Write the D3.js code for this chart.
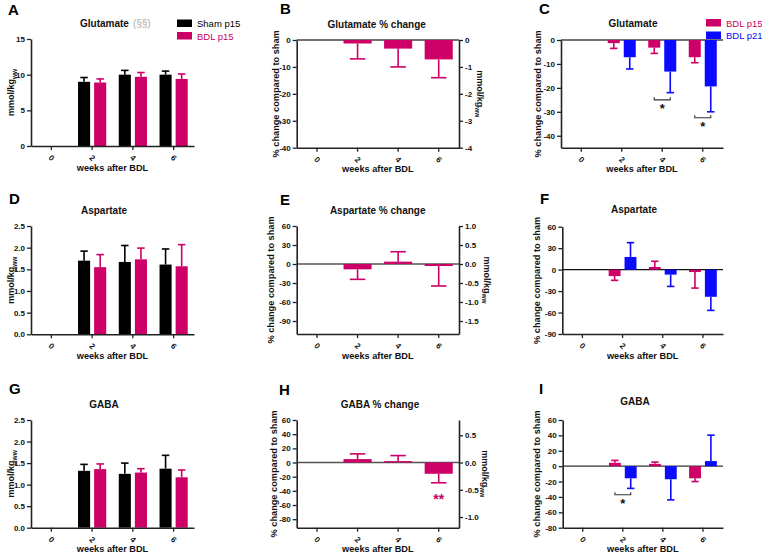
<!DOCTYPE html>
<html><head><meta charset="utf-8">
<script src="https://cdn.jsdelivr.net/npm/d3@7"></script>
<style>body{margin:0;background:#fff}svg{display:block}</style>
</head><body>
<script>
// ---------- DATA ----------
const weeks = ["0", "2", "4", "6"];
// Glutamate (mmol/kg ww)
const gluSham15 = [null, 9.0, 10.0, 10.0];
const gluSham15Err = [null, 0.6, 0.6, 0.5];
const gluBdl15 = [null, 8.9, 9.7, 9.4];
const gluBdl15Err = [null, 0.5, 0.6, 0.7];
// Glutamate % change
const gluPct15 = [null, -1.3, -3.2, -7.2];
const gluPct15ErrB = [null, 5.7, 6.8, 6.8];
const gluPct15ErrC = [null, 2.2, 2.4, 2.3];
const gluPct21 = [null, -7.2, -13.2, -19.4];
const gluPct21Err = [null, 4.9, 8.8, 10.6];
// Aspartate (mmol/kg ww)
const aspSham15 = [null, 1.70, 1.67, 1.61];
const aspSham15Err = [null, 0.22, 0.38, 0.36];
const aspBdl15 = [null, 1.55, 1.73, 1.57];
const aspBdl15Err = [null, 0.29, 0.26, 0.50];
// Aspartate % change
const aspPct15E = [null, -8.4, 3.7, -3.2];
const aspPct15ErrE = [null, 15.8, 15.7, 31.5];
const aspPct15F = [null, -9.0, 3.7, -3.4];
const aspPct15ErrF = [null, 6.0, 8.0, 22.4];
const aspPct21 = [null, 17.7, -7.0, -38.0];
const aspPct21Err = [null, 20.0, 16.5, 19.0];
// GABA (mmol/kg ww)
const gabaSham15 = [null, 1.32, 1.25, 1.37];
const gabaSham15Err = [null, 0.15, 0.25, 0.31];
const gabaBdl15 = [null, 1.36, 1.28, 1.17];
const gabaBdl15Err = [null, 0.12, 0.09, 0.17];
// GABA % change
const gabaPct15H = [null, 4.8, 2.0, -15.9];
const gabaPct15ErrH = [null, 7.4, 7.8, 12.7];
const gabaPct15I = [null, 4.4, 3.0, -15.8];
const gabaPct15ErrI = [null, 3.1, 2.3, 4.2];
const gabaPct21 = [null, -15.8, -17.0, 6.6];
const gabaPct21Err = [null, 13.1, 26.8, 33.7];
// tick values
const ticksGluAbs = [0, 5, 10, 15];
const ticksGluPct = [0, -10, -20, -30, -40];
const ticksGluRight = [0, -1, -2, -3, -4];
const ticksAbs25 = [0, 0.5, 1.0, 1.5, 2.0, 2.5];
const ticks30 = [60, 30, 0, -30, -60, -90];
const ticksAspRight = [1.0, 0.5, 0.0, -0.5, -1.0, -1.5];
const ticks20 = [60, 40, 20, 0, -20, -40, -60, -80];
const ticksGabaRight = [0.5, 0.0, -0.5, -1.0];
// significance annotations (bracket level in data units)
const sigC = [{ week: "4", level: -25 }, { week: "6", level: -32.5 }];
const sigI = [{ week: "2", level: -37.2 }];
const sigH = [{ week: "6", level: -47.8, text: "**" }];

// ---------- DRAW ----------
const FONT = "'Liberation Sans', Arial, Helvetica, sans-serif";
const PINK = "#cc0066", BLUE = "#0a0aff", BLACK = "#000000", AX = "#222";
const svg = d3.select("body").append("svg").attr("width", 762).attr("height", 555)
  .style("font-family", FONT);

const fix = s => s.replace(/\u2212/g, "-");
const fInt = d => fix(d3.format("d")(d));
const f1 = d => fix(d3.format(".1f")(d));

function mmolLabel(g, x, y, rot) {
  const t = g.append("text").attr("transform", `translate(${x},${y}) rotate(${rot})`)
    .attr("text-anchor", "middle").attr("dominant-baseline", "central")
    .attr("font-size", 9).attr("font-weight", "bold").attr("fill", "#111");
  t.append("tspan").text("mmol/kg");
  t.append("tspan").attr("font-size", 6.5).attr("dy", 2.5).text("ww");
}

function panel(c) {
  const g = svg.append("g");
  const x = d3.scaleBand().domain(weeks).range([c.x0, c.x1]).padding(0);
  const y = d3.scaleLinear().domain(c.domain).range([c.yBot, c.yTop]);
  const keys = c.series.map(s => s.key);
  const xs = d3.scaleBand().domain(keys).range([0, x.bandwidth()]);
  if (keys.length === 1) xs.paddingInner(0.1).paddingOuter(0.2);
  else xs.paddingInner(0.25).paddingOuter(0.39);

  if (c.zeroLine) {
    g.append("line").attr("x1", c.x0).attr("x2", c.x1).attr("y1", y(0)).attr("y2", y(0))
      .attr("stroke", c.zeroLine).attr("stroke-width", 1.4);
  }

  c.series.forEach(s => {
    const data = weeks.map((w, i) => ({ w, v: s.values[i], e: s.errs[i] })).filter(d => d.v != null);
    const bw = xs.bandwidth();
    const capW = bw * (keys.length === 1 ? 0.55 : 0.62);
    data.forEach(d => {
      const cx = x(d.w) + xs(s.key) + bw / 2;
      const end = d.v + (d.v >= 0 ? 1 : -1) * d.e;
      g.append("line").attr("x1", cx).attr("x2", cx).attr("y1", y(d.v)).attr("y2", y(end))
        .attr("stroke", s.color).attr("stroke-width", 1.6);
      g.append("line").attr("x1", cx - capW / 2).attr("x2", cx + capW / 2).attr("y1", y(end)).attr("y2", y(end))
        .attr("stroke", s.color).attr("stroke-width", 1.6);
    });
    g.selectAll(null).data(data).join("rect")
      .attr("x", d => x(d.w) + xs(s.key))
      .attr("width", bw)
      .attr("y", d => Math.min(y(d.v), y(0)))
      .attr("height", d => Math.abs(y(d.v) - y(0)))
      .attr("fill", s.color);
  });

  // left axis
  const ay = g.append("g").attr("transform", `translate(${c.x0},0)`)
    .call(d3.axisLeft(y).tickValues(c.ticks).tickFormat(c.fmt).tickSize(4).tickSizeOuter(0).tickPadding(2));
  // x axis
  const ax = g.append("g").attr("transform", `translate(0,${c.yBot})`)
    .call(d3.axisBottom(x).tickSize(4).tickSizeOuter(0));
  ax.selectAll(".tick text").attr("y", 0).attr("dy", 0)
    .attr("transform", "translate(0,12) rotate(45)")
    .attr("text-anchor", "middle").attr("dominant-baseline", "central");
  const axes = [ay, ax];
  if (c.right) {
    const yR = d3.scaleLinear().domain(c.domain.map(v => v * c.right.factor)).range([c.yBot, c.yTop]);
    const ar = g.append("g").attr("transform", `translate(${c.x1},0)`)
      .call(d3.axisRight(yR).tickValues(c.right.ticks).tickFormat(c.right.fmt).tickSize(4).tickSizeOuter(0).tickPadding(2));
    axes.push(ar);
    mmolLabel(g, c.right.labelX, (c.yTop + c.yBot) / 2, 90);
  }
  axes.forEach(a => {
    a.select(".domain").attr("stroke", AX).attr("stroke-width", 1.6);
    a.selectAll(".tick line").attr("stroke", AX).attr("stroke-width", 1.3);
    a.selectAll(".tick text").attr("font-size", 8).attr("font-weight", "bold")
      .attr("fill", "#111").style("font-family", FONT);
  });

  // y label
  if (c.yLabel === "mmol") mmolLabel(g, c.yLabelX, (c.yTop + c.yBot) / 2, -90);
  else g.append("text").attr("transform", `translate(${c.yLabelX},${(c.yTop + c.yBot) / 2}) rotate(-90)`)
    .attr("text-anchor", "middle").attr("dominant-baseline", "central")
    .attr("font-size", 9.2).attr("font-weight", "bold").attr("fill", "#111")
    .text("% change compared to sham");

  // x label
  g.append("text").attr("x", (c.x0 + c.x1) / 2).attr("y", c.yBot + 24.5)
    .attr("text-anchor", "middle").attr("font-size", 9.2).attr("font-weight", "bold").attr("fill", "#111")
    .text("weeks after BDL");

  // title
  const t = g.append("text").attr("x", c.titleX).attr("y", c.titleY)
    .attr("text-anchor", c.titleAnchor || "middle").attr("font-size", 10).attr("font-weight", "bold").attr("fill", "#111");
  t.append("tspan").text(c.title);
  if (c.titleExtra) t.append("tspan").attr("font-weight", "normal").attr("fill", "#aaa").attr("dx", 4).text(c.titleExtra);

  // panel letter
  g.append("text").attr("x", c.letterX).attr("y", c.letterY).attr("font-size", 15)
    .attr("font-weight", "bold").attr("fill", "#000").text(c.letter);

  // legend
  if (c.legend) {
    c.legend.forEach((l, i) => {
      const ly = c.legendY + i * 12.5;
      g.append("rect").attr("x", c.legendX).attr("y", ly).attr("width", 15).attr("height", 7.5).attr("fill", l.color);
      g.append("text").attr("x", c.legendX + 20).attr("y", ly + 7.5).attr("font-size", 9.5)
        .attr("fill", l.color).text(l.label);
    });
  }

  // significance brackets
  if (c.sig) {
    c.sig.forEach(s => {
      const bw = xs.bandwidth();
      const xa = x(s.week) + xs(keys[0]) + bw / 2, xb = x(s.week) + xs(keys[1]) + bw / 2;
      const yy = y(s.level);
      g.append("path").attr("d", `M${xa},${yy - 2.5}V${yy}H${xb}V${yy - 2.5}`)
        .attr("fill", "none").attr("stroke", "#333").attr("stroke-width", 1.1);
      g.append("text").attr("x", (xa + xb) / 2).attr("y", yy + 13.5).attr("text-anchor", "middle")
        .attr("font-size", 13).attr("font-weight", "bold").attr("fill", "#111").text("*");
    });
  }
  if (c.sigText) {
    c.sigText.forEach(s => {
      g.append("text").attr("x", x(s.week) + x.bandwidth() / 2).attr("y", y(s.level) + 7.5)
        .attr("text-anchor", "middle").attr("font-size", 14).attr("font-weight", "bold")
        .attr("fill", PINK).text(s.text);
    });
  }
}

const col = [[31, 194], [296.7, 459], [561, 723]];

// Row 1
panel({ letter: "A", letterX: 8, letterY: 14.5, title: "Glutamate", titleExtra: "(§§)", titleX: 80, titleY: 27, titleAnchor: "start",
  x0: col[0][0], x1: col[0][1], yTop: 39, yBot: 146, domain: [0, 15], ticks: ticksGluAbs, fmt: fInt,
  series: [{ key: "sham", values: gluSham15, errs: gluSham15Err, color: BLACK },
           { key: "bdl", values: gluBdl15, errs: gluBdl15Err, color: PINK }],
  yLabel: "mmol", yLabelX: 11,
  legend: [{ label: "Sham p15", color: BLACK }, { label: "BDL p15", color: PINK }], legendX: 177, legendY: 19.5 });

panel({ letter: "B", letterX: 280, letterY: 13.5, title: "Glutamate % change", titleX: 376.7, titleY: 27.5,
  x0: col[1][0], x1: col[1][1], yTop: 40, yBot: 147.7, domain: [-40, 0], ticks: ticksGluPct, fmt: fInt,
  series: [{ key: "p15", values: gluPct15, errs: gluPct15ErrB, color: PINK }],
  zeroLine: "#444", yLabel: "pct", yLabelX: 275.5,
  right: { factor: 0.1, ticks: ticksGluRight, fmt: fInt, labelX: 480 } });

panel({ letter: "C", letterX: 539, letterY: 14, title: "Glutamate", titleX: 633, titleY: 27,
  x0: col[2][0], x1: col[2][1], yTop: 40, yBot: 147.7, domain: [-45, 0], ticks: ticksGluPct, fmt: fInt,
  series: [{ key: "p15", values: gluPct15, errs: gluPct15ErrC, color: PINK },
           { key: "p21", values: gluPct21, errs: gluPct21Err, color: BLUE }],
  zeroLine: "#444", yLabel: "pct", yLabelX: 537.5, sig: sigC,
  legend: [{ label: "BDL p15", color: PINK }, { label: "BDL p21", color: BLUE }], legendX: 706, legendY: 19 });

// Row 2
panel({ letter: "D", letterX: 9, letterY: 204, title: "Aspartate", titleX: 104, titleY: 213.5,
  x0: col[0][0], x1: col[0][1], yTop: 226, yBot: 334.3, domain: [0, 2.5], ticks: ticksAbs25, fmt: f1,
  series: [{ key: "sham", values: aspSham15, errs: aspSham15Err, color: BLACK },
           { key: "bdl", values: aspBdl15, errs: aspBdl15Err, color: PINK }],
  yLabel: "mmol", yLabelX: 11 });

panel({ letter: "E", letterX: 280, letterY: 205, title: "Aspartate % change", titleX: 377.7, titleY: 213.5,
  x0: col[1][0], x1: col[1][1], yTop: 226, yBot: 334, domain: [-110.5, 60], ticks: ticks30, fmt: fInt,
  series: [{ key: "p15", values: aspPct15E, errs: aspPct15ErrE, color: PINK }],
  zeroLine: "#555", yLabel: "pct", yLabelX: 270.7,
  right: { factor: 1 / 60, ticks: ticksAspRight, fmt: f1, labelX: 487 } });

panel({ letter: "F", letterX: 540, letterY: 204, title: "Aspartate", titleX: 634, titleY: 212.5,
  x0: col[2][0] + 1.3, x1: col[2][1], yTop: 226.7, yBot: 334, domain: [-90, 60], ticks: ticks30, fmt: fInt,
  series: [{ key: "p15", values: aspPct15F, errs: aspPct15ErrF, color: PINK },
           { key: "p21", values: aspPct21, errs: aspPct21Err, color: BLUE }],
  zeroLine: "#111", yLabel: "pct", yLabelX: 537 });

// Row 3
panel({ letter: "G", letterX: 9, letterY: 394, title: "GABA", titleX: 104, titleY: 407.5,
  x0: col[0][0], x1: col[0][1], yTop: 420, yBot: 527.7, domain: [0, 2.5], ticks: ticksAbs25, fmt: f1,
  series: [{ key: "sham", values: gabaSham15, errs: gabaSham15Err, color: BLACK },
           { key: "bdl", values: gabaBdl15, errs: gabaBdl15Err, color: PINK }],
  yLabel: "mmol", yLabelX: 11 });

panel({ letter: "H", letterX: 279, letterY: 395, title: "GABA % change", titleX: 380, titleY: 407.5,
  x0: col[1][0], x1: col[1][1], yTop: 420, yBot: 527.7, domain: [-92, 60], ticks: ticks20, fmt: fInt,
  series: [{ key: "p15", values: gabaPct15H, errs: gabaPct15ErrH, color: PINK }],
  zeroLine: "#555", yLabel: "pct", yLabelX: 274, sigText: sigH,
  right: { factor: 0.013, ticks: ticksGabaRight, fmt: f1, labelX: 485 } });

panel({ letter: "I", letterX: 539, letterY: 394, title: "GABA", titleX: 635, titleY: 405,
  x0: col[2][0] + 1.7, x1: col[2][1], yTop: 420, yBot: 527.7, domain: [-80, 60], ticks: ticks20, fmt: fInt,
  series: [{ key: "p15", values: gabaPct15I, errs: gabaPct15ErrI, color: PINK },
           { key: "p21", values: gabaPct21, errs: gabaPct21Err, color: BLUE }],
  zeroLine: "#333", yLabel: "pct", yLabelX: 537, sig: sigI });
</script>
</body></html>
